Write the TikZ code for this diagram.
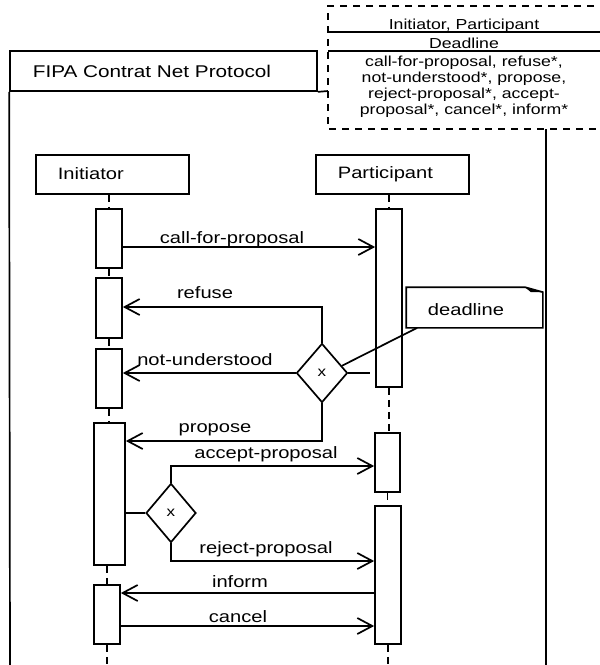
\documentclass[tikz,border=0pt]{standalone}
\usepackage{fontspec}
\setmainfont{Liberation Sans}[FakeStretch=1.22]
\usetikzlibrary{arrows.meta,shapes.geometric,calc}
\begin{document}
\begin{tikzpicture}[x=1pt,y=-1pt,line width=1.7pt,
  big/.style={font=\fontsize{16.5}{18}\selectfont,inner sep=0pt},
  small/.style={font=\fontsize{14.5}{16}\selectfont,inner sep=0pt},
  lbl/.style={big,anchor=base},
  act/.style={draw,fill=white,minimum width=26pt,inner sep=0pt},
  head/.style={draw,minimum width=153pt,minimum height=39pt,inner sep=0pt},
  choice/.style={draw,fill=white,diamond,minimum width=51pt,minimum height=59pt,inner sep=0pt,font=\fontsize{14}{16}\selectfont},
  life/.style={line width=1.6pt,dash pattern=on 7pt off 5pt},
  msg/.style={-{Straight Barb[length=15pt,width=16pt]}},
  dbox/.style={line width=1.6pt,dash pattern=on 7pt off 6pt}
]
\useasboundingbox (0,0) rectangle (600,665);
\clip (0,0) rectangle (600,665);

% frame
\node[draw,minimum width=307pt,minimum height=40pt,inner sep=0pt] (fipa) at (163.5,71) {};
\node[big,anchor=west,font=\fontsize{17}{19}\selectfont] (fipat) at (32,71) {FIPA Contrat Net Protocol};
\coordinate (fbl) at (10,670);
\coordinate (fr) at (328,91);
\draw (fipa.south west) -- (fbl);
\draw (fipa.south east) -- (fr);

% dashed parameter box
\draw[dbox] (607,6) -- (328,6) -- (328,129) -- (607,129);
\draw (328,32) -- (607,32);
\draw (328,51) -- (607,51);
\coordinate (rtop) at (546,129);
\coordinate (rbot) at (546,670);
\draw (rtop) -- (rbot);
\node[small,anchor=base] (p1) at (464,29.5) {Initiator, Participant};
\node[small,anchor=base] (p2) at (464,48) {Deadline};
\node[small,anchor=base] (p3) at (464,66.5) {call-for-proposal, refuse*,};
\node[small,anchor=base] (p4) at (464,82.5) {not-understood*, propose,};
\node[small,anchor=base] (p5) at (464,98.5) {reject-proposal*, accept-};
\node[small,anchor=base] (p6) at (464,114.5) {proposal*, cancel*, inform*};

% heads
\node[head] (Ini) at (112.5,174.5) {};
\node[big,anchor=west] (Init) at (57,174) {Initiator};
\node[head] (Par) at (392.5,174.5) {};
\node[big,anchor=west] (Part) at (337,174) {Participant};

\coordinate (bot) at (0,670);

% activations
\node[act,minimum height=59pt] (A1) at (109,238.5) {};
\node[act,minimum height=60pt] (A2) at (109,308) {};
\node[act,minimum height=59pt] (A3) at (109,378.5) {};
\node[act,minimum width=31pt,minimum height=142pt] (A4) at (109.5,494) {};
\node[act,minimum height=59pt] (A5) at (107,614.5) {};
\node[act,minimum height=178pt] (P1) at (389,298) {};
\node[act,minimum width=25pt,minimum height=59pt] (P2) at (387.5,462.5) {};
\node[act,minimum height=138pt] (P3) at (388,575) {};

% lifelines
\draw[life] (A1.north |- Ini.south) -- (A1.north);
\draw[life] (A1.south) -- (A2.north);
\draw[life] (A2.south) -- (A3.north);
\draw[life] (A3.south) -- (A3.south |- A4.north);
\draw[life] (A5.north |- A4.south) -- (A5.north);
\draw[life] (A5.south) -- (A5.south |- bot);
\draw[life] (P1.north |- Par.south) -- (P1.north);
\draw[life] (P1.south) -- (P1.south |- P2.north);
\draw[life] (P2.south) -- (P2.south |- P3.north);
\draw[life] (P3.south) -- (P3.south |- bot);

% decisions
\node[choice] (D1) at (322,373) {x};
\node[choice,minimum width=50pt] (D2) at (171,513) {x};

% messages
\draw[msg] (A1.east |- 0,247) -- (P1.west |- 0,247);
\draw[msg] (D1.north) -- (D1.north |- 0,307) -- (A2.east |- 0,307);
\draw[msg] (D1.west) -- (A3.east |- D1.west);
\draw (D1.east) -- ([xshift=-5pt]P1.west |- D1.east);
\draw[msg] (D1.south) -- (D1.south |- 0,441) -- (A4.east |- 0,441);
\draw (A4.east |- D2.west) -- (D2.west);
\draw[msg] (D2.north) -- (D2.north |- 0,466) -- (P2.west |- 0,466);
\draw[msg] (D2.south) -- (D2.south |- 0,561) -- (P3.west |- 0,561);
\draw[msg] (P3.west |- 0,593) -- (A5.east |- 0,593);
\draw[msg] (A5.east |- 0,626) -- (P3.west |- 0,626);

\node[lbl] (l1) at (232,243) {call-for-proposal};
\node[lbl] (l2) at (205,298) {refuse};
\node[lbl] (l3) at (205,365) {not-understood};
\node[lbl] (l4) at (215,432) {propose};
\node[lbl] (l5) at (266,458) {accept-proposal};
\node[lbl] (l6) at (266,553) {reject-proposal};
\node[lbl] (l7) at (240,587) {inform};
\node[lbl] (l8) at (238,622) {cancel};

% note
\node[minimum width=135pt,minimum height=39pt,inner sep=0pt] (note) at (474.5,307.5) {};
\node[big] (notet) at (466,310) {deadline};
\draw (note.south west) -- (note.north west) -- ([xshift=-18pt]note.north east) -- ([yshift=-5pt]note.north east) -- (note.south east) -- cycle;
\fill ([xshift=-18pt]note.north east) -- ([xshift=-12pt,yshift=-5pt]note.north east) -- ([yshift=-5pt]note.north east) -- cycle;
\draw ([xshift=11pt]note.south west) -- (D1.20);
\end{tikzpicture}
\end{document}
